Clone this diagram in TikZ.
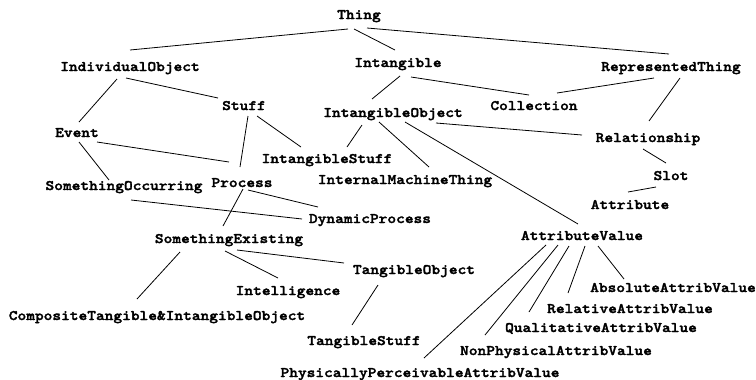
\documentclass[tikz,border=0pt]{standalone}
\usepackage{fontspec}
\newfontfamily\lblfont{lmmonolt10-bold.otf}[FakeStretch=1.145,FakeBold=2]
\begin{document}
\begin{tikzpicture}[x=1bp,y=-1bp,
  lbl/.style={font=\lblfont\fontsize{14.5bp}{17bp}\selectfont, inner sep=0pt, anchor=base},
  link/.style={line width=0.8bp, black}]
\useasboundingbox (0,0) rectangle (756,379);
% concept nodes (positions are the text baselines)
\node[lbl] (thing)   at (359,19)  {Thing};
\node[lbl] (indiv)   at (130,71)  {IndividualObject};
\node[lbl] (intang)  at (398,67)  {Intangible};
\node[lbl] (repr)    at (671,71)  {RepresentedThing};
\node[lbl] (stuff)   at (244,110) {Stuff};
\node[lbl] (coll)    at (534,110) {Collection};
\node[lbl] (intobj)  at (393,117) {IntangibleObject};
\node[lbl] (event)   at (77,137)  {Event};
\node[lbl] (rel)     at (648,142) {Relationship};
\node[lbl] (intstf)  at (327,163) {IntangibleStuff};
\node[lbl] (slot)    at (671,180) {Slot};
\node[lbl] (proc)    at (242,187) {Process};
\node[lbl] (imt)     at (405,184) {InternalMachineThing};
\node[lbl] (socc)    at (124,190) {SomethingOccurring};
\node[lbl] (attr)    at (630,209) {Attribute};
\node[lbl] (dyn)     at (370,223) {DynamicProcess};
\node[lbl] (sex)     at (229,243) {SomethingExisting};
\node[lbl] (aval)    at (582,240) {AttributeValue};
\node[lbl] (tobj)    at (414,274) {TangibleObject};
\node[lbl] (intel)   at (288,295) {Intelligence};
\node[lbl] (absv)    at (673,292) {AbsoluteAttribValue};
\node[lbl] (comp)    at (157,320) {CompositeTangible\&IntangibleObject};
\node[lbl] (relv)    at (630,313) {RelativeAttribValue};
\node[lbl] (qualv)   at (601,332) {QualitativeAttribValue};
\node[lbl] (tstf)    at (364,345) {TangibleStuff};
\node[lbl] (nonph)   at (556,355) {NonPhysicalAttribValue};
\node[lbl] (physv)   at (420,377) {PhysicallyPerceivableAttribValue};
% subsumption links
\draw[link] ([shift={(-11,10)}]thing.base) -- ([shift={(0,-21)}]indiv.base);
\draw[link] ([shift={(-5,10)}]thing.base) -- ([shift={(-3,-17)}]intang.base);
\draw[link] ([shift={(8,9)}]thing.base) -- ([shift={(-2,-17)}]repr.base);
\draw[link] ([shift={(-13,8)}]indiv.base) -- ([shift={(2,-15)}]event.base);
\draw[link] ([shift={(-4,7)}]indiv.base) -- ([shift={(-26,-12)}]stuff.base);
\draw[link] ([shift={(2,9)}]intang.base) -- ([shift={(-21,-18)}]intobj.base);
\draw[link] ([shift={(13,10)}]intang.base) -- ([shift={(-5,-15)}]coll.base);
\draw[link] ([shift={(-17,7)}]repr.base) -- ([shift={(23,-17)}]coll.base);
\draw[link] ([shift={(9,7)}]repr.base) -- ([shift={(1,-21)}]rel.base);
\draw[link] ([shift={(4,6)}]stuff.base) -- ([shift={(-2,-20)}]proc.base);
\draw[link] ([shift={(13,6)}]stuff.base) -- ([shift={(-26,-16)}]intstf.base);
\draw[link] ([shift={(20,5)}]event.base) -- ([shift={(-13,-25)}]proc.base);
\draw[link] ([shift={(2,5)}]event.base) -- ([shift={(-15,-10)}]socc.base);
\draw[link] ([shift={(-31,8)}]intobj.base) -- ([shift={(20,-16)}]intstf.base);
\draw[link] ([shift={(-14,5)}]intobj.base) -- ([shift={(24,-17)}]imt.base);
\draw[link] ([shift={(12,5)}]intobj.base) -- ([shift={(-4,-16)}]aval.base);
\draw[link] ([shift={(43,6)}]intobj.base) -- ([shift={(-66,-7)}]rel.base);
\draw[link] ([shift={(-5,7)}]rel.base) -- ([shift={(-5,-17)}]slot.base);
\draw[link] ([shift={(-15,7)}]slot.base) -- ([shift={(-2,-17)}]attr.base);
\draw[link] ([shift={(1,2)}]proc.base) -- ([shift={(-6,-17)}]sex.base);
\draw[link] ([shift={(6,3)}]proc.base) -- ([shift={(-52,-16)}]dyn.base);
\draw[link] ([shift={(7,10)}]socc.base) -- ([shift={(-68,-4)}]dyn.base);
\draw[link] ([shift={(-49,9)}]sex.base) -- ([shift={(-20,-21)}]comp.base);
\draw[link] ([shift={(-4,8)}]sex.base) -- ([shift={(-10,-17)}]intel.base);
\draw[link] ([shift={(8,7)}]sex.base) -- ([shift={(-70,-11)}]tobj.base);
\draw[link] ([shift={(-36,11)}]tobj.base) -- ([shift={(-12,-20)}]tstf.base);
\draw[link] ([shift={(-36,5)}]aval.base) -- ([shift={(4,-19)}]physv.base);
\draw[link] ([shift={(-24,5)}]aval.base) -- ([shift={(-71,-20)}]nonph.base);
\draw[link] ([shift={(-13,6)}]aval.base) -- ([shift={(-72,-20)}]qualv.base);
\draw[link] ([shift={(3,6)}]aval.base) -- ([shift={(-62,-20)}]relv.base);
\draw[link] ([shift={(16,6)}]aval.base) -- ([shift={(-49,-13)}]absv.base);
\end{tikzpicture}
\end{document}
